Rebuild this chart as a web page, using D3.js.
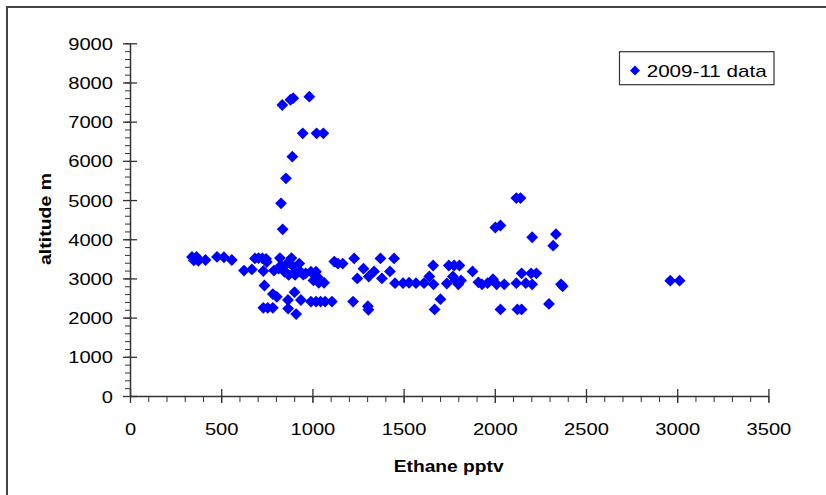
<!DOCTYPE html>
<html>
<head>
<meta charset="utf-8">
<script src="https://cdn.jsdelivr.net/npm/d3@7"></script>
<style>
html,body{margin:0;padding:0;background:#fff;}
svg{display:block;}
text{font-family:"Liberation Sans",Arial,sans-serif;fill:#000;}
</style>
</head>
<body>
<svg id="chart" width="826" height="495"></svg>
<script>
// ---- data ----
const seriesName = "2009-11 data";
const ethane = [340,350,365,375,414,477,515,558,625,668,685,705,726,746,750,731,737,731,755,783,783,805,789,822,827,815,847,861,885,890,905,870,905,928,934,950,963,992,1020,1006,1029,1035,1064,866,867,902,911,937,992,1020,1045,1070,1107,1223,1304,1307,1120,1140,1166,1229,1246,1280,1309,1338,1373,1381,1425,1448,1453,1497,1530,1568,1612,1641,1662,1664,1670,1702,1737,1748,1777,1806,1770,1785,1800,1815,1878,1910,1930,1960,1990,2010,2003,2031,2031,2052,2118,2141,2118,2124,2147,2147,2170,2205,2199,2228,2205,2297,2320,2335,2363,2372,2962,3013,835,880,895,983,947,1023,1060,890,855,828,837];
const altitude = [3550,3460,3550,3450,3470,3550,3540,3470,3200,3230,3510,3520,3510,3500,3420,3190,2820,2250,2250,2250,2600,2530,3200,3520,3330,3250,3170,3380,3520,3330,3170,3090,3090,3380,3170,3100,3130,3170,3170,2950,3030,2890,2890,2450,2230,2650,2090,2450,2410,2410,2410,2410,2410,2410,2290,2200,3430,3380,3380,3510,3000,3250,3050,3180,3510,3000,3180,3510,2880,2880,2890,2880,2880,3050,3330,2850,2210,2470,2870,3330,3330,3330,3050,2950,2850,2950,3180,2900,2850,2880,2980,2850,4300,4350,2210,2850,5050,5050,2880,2210,2210,3130,2880,4050,3130,3130,2850,2350,3837,4130,2850,2800,2942,2942,7425,7560,7600,7638,6703,6703,6703,6107,5555,4916,4253];
const xTicks = [0,500,1000,1500,2000,2500,3000,3500];
const yTicks = [0,1000,2000,3000,4000,5000,6000,7000,8000,9000];
const xTitle = "Ethane pptv";
const yTitle = "altitude m";

const svg = d3.select("#chart");
const x = d3.scaleLinear().domain([0,3500]).range([130,768.4]);
const y = d3.scaleLinear().domain([0,9000]).range([396,43.3]);
const blue = "#0000ff";
const axisCol = "#333";

// outer border
svg.append("rect").attr("x",7).attr("y",7).attr("width",830).attr("height",500)
  .attr("fill","none").attr("stroke","#444").attr("stroke-width",2);

// minor ticks
const xMinor = d3.range(0,3501,100);
const yMinor = d3.range(0,9001,200);
const gxm = svg.append("g").attr("transform","translate(0,396)")
  .call(d3.axisBottom(x).tickValues(xMinor).tickSize(6).tickFormat(""));
gxm.select(".domain").remove();
gxm.selectAll("line").attr("stroke",axisCol);
const gym = svg.append("g").attr("transform","translate(130,0)")
  .call(d3.axisLeft(y).tickValues(yMinor).tickSize(5).tickFormat(""));
gym.select(".domain").remove();
gym.selectAll("line").attr("stroke",axisCol);

// major axes
const gx = svg.append("g").attr("transform","translate(0,396)")
  .call(d3.axisBottom(x).tickValues(xTicks).tickSize(7).tickSizeOuter(0).tickFormat(d3.format("d")));
gx.select(".domain").attr("stroke",axisCol).attr("stroke-width",1.5);
gx.selectAll(".tick line").attr("y1",-7).attr("y2",7).attr("stroke",axisCol).attr("stroke-width",1.3);
gx.selectAll(".tick text").attr("y",39).attr("dy",0)
  .style("font-size","17px").attr("fill","#000")
  .attr("textLength",d=>String(d).length*11.2).attr("lengthAdjust","spacingAndGlyphs");

const gy = svg.append("g").attr("transform","translate(130,0)")
  .call(d3.axisLeft(y).tickValues(yTicks).tickSize(7).tickSizeOuter(0).tickFormat(d3.format("d")));
gy.select(".domain").attr("stroke",axisCol).attr("stroke-width",1.5);
gy.selectAll(".tick line").attr("x1",-7).attr("x2",7).attr("stroke",axisCol).attr("stroke-width",1.3);
gy.selectAll(".tick text").attr("x",-17).attr("dy",6)
  .style("font-size","17px").attr("fill","#000")
  .attr("textLength",d=>String(d).length*11.2).attr("lengthAdjust","spacingAndGlyphs");
gx.attr("font-family",null); gy.attr("font-family",null);
gx.attr("font-size",null); gy.attr("font-size",null);

// axis titles
svg.append("text").attr("x",448.7).attr("y",472).attr("text-anchor","middle")
  .style("font-size","17px").style("font-weight","bold")
  .attr("textLength",110).attr("lengthAdjust","spacingAndGlyphs").text(xTitle);
svg.append("text").attr("transform","translate(50.5,219) rotate(-90)").attr("text-anchor","middle")
  .style("font-size","17px").style("font-weight","bold")
  .attr("textLength",92).attr("lengthAdjust","spacingAndGlyphs").text(yTitle);

// points
const data = ethane.map((v,i)=>({x:v,y:altitude[i]}));
const diamond = d3.symbol().type(d3.symbolSquare).size(70);
svg.append("g").selectAll("path").data(data).join("path")
  .attr("d",diamond)
  .attr("transform",d=>`translate(${x(d.x)},${y(d.y)}) rotate(45)`)
  .attr("fill",blue);

// legend
const lg = svg.append("g");
lg.append("rect").attr("x",619.5).attr("y",51.7).attr("width",154.5).attr("height",33)
  .attr("fill","#fff").attr("stroke","#333").attr("stroke-width",1.2);
lg.append("path").attr("d",d3.symbol().type(d3.symbolSquare).size(50))
  .attr("transform","translate(635,70.5) rotate(45)").attr("fill",blue);
lg.append("text").attr("x",646.7).attr("y",76.8).style("font-size","17px")
  .attr("textLength",120).attr("lengthAdjust","spacingAndGlyphs").text(seriesName);
</script>
</body>
</html>
